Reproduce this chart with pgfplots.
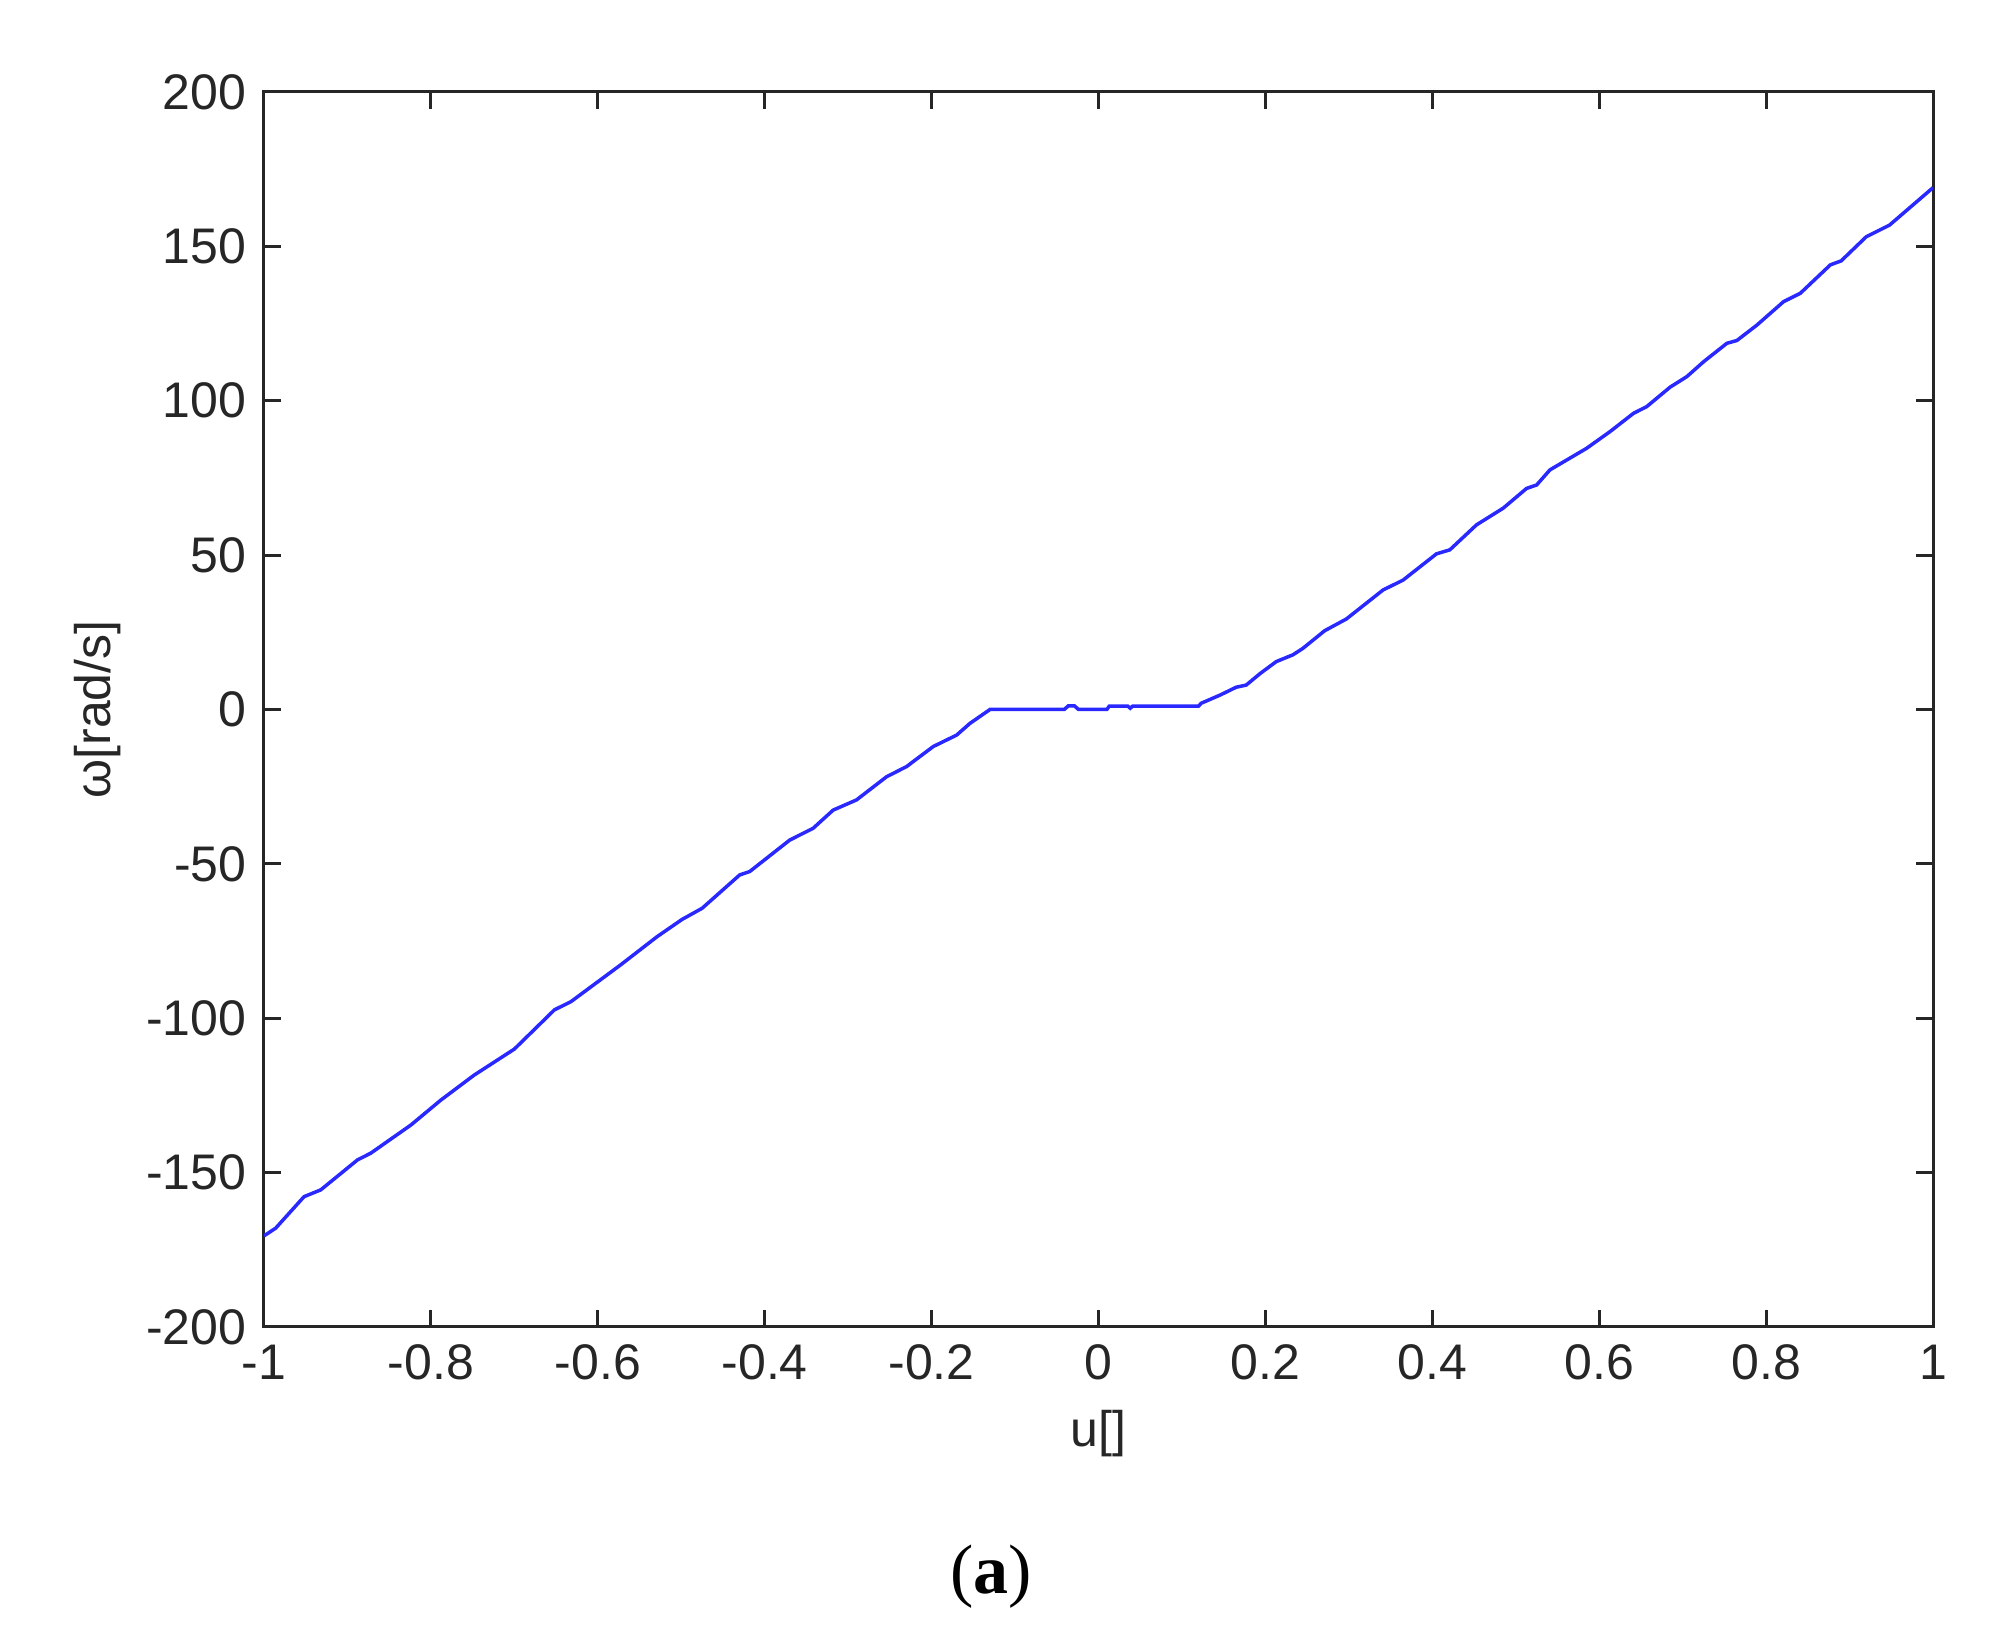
\documentclass[border=0pt]{standalone}
\usepackage{fontspec}
\setmainfont{Liberation Sans}
\newfontfamily\capfont{Liberation Serif}
\usepackage{pgfplots}
\pgfplotsset{compat=1.18}

\begin{document}
\begin{tikzpicture}
	\begin{axis}[
		name=ax,
		scale only axis,
		width=333.8pt, height=247pt,
		xmin=-1, xmax=1, ymin=-200, ymax=200,
		xtick={-1,-0.8,...,1.01},
		ytick={-200,-150,...,200},
		/pgf/number format/assume math mode=true,
		/pgf/number format/fixed,
		tick label style={font=\fontsize{10}{12}\selectfont, black!85},
		label style={font=\fontsize{10}{12}\selectfont, black!85},
		tick align=inside,
		major tick length=3.4pt,
		every tick/.style={black!85, line width=0.6pt},
		axis line style={black!85, line width=0.6pt},
		xlabel={u[]},
		ylabel={ω[rad/s]},
		xlabel style={at={(axis description cs:0.5,-0.086)}, anchor=center},
		ylabel style={at={(axis description cs:-0.1,0.5)}, anchor=center},
		]
		\addplot[color={rgb,255:red,40;green,40;blue,255}, line width=0.7pt] coordinates {
			(-1,-170.5) (-0.986,-168) (-0.952,-157.8) (-0.932,-155.6)
			(-0.888,-145.9) (-0.872,-143.7) (-0.824,-134.6) (-0.788,-126.5)
			(-0.748,-118.4) (-0.700,-110) (-0.652,-97.3) (-0.632,-94.6)
			(-0.573,-82.8) (-0.529,-73.6) (-0.499,-68) (-0.475,-64.4)
			(-0.430,-53.6) (-0.418,-52.5) (-0.370,-42.3) (-0.342,-38.5)
			(-0.318,-32.6) (-0.290,-29.3) (-0.254,-21.8) (-0.230,-18.5)
			(-0.198,-12.0) (-0.170,-8.3) (-0.154,-4.5) (-0.130,0)
			(-0.041,0) (-0.036,1.2) (-0.029,1.2) (-0.024,0)
			(0.010,0) (0.013,1.1) (0.035,1.1) (0.038,0.4) (0.041,1.1)
			(0.120,1.1) (0.123,2.0) (0.146,4.7) (0.165,7.2) (0.177,7.9)
			(0.194,11.7) (0.213,15.5) (0.233,17.7) (0.245,19.8)
			(0.271,25.5) (0.297,29.3) (0.341,38.7) (0.365,41.9)
			(0.405,50.4) (0.421,51.7) (0.453,59.8) (0.485,65.2)
			(0.513,71.6) (0.525,72.7) (0.541,77.6) (0.585,84.6)
			(0.613,90.0) (0.641,95.9) (0.657,98.1) (0.685,104.4)
			(0.705,107.8) (0.725,112.6) (0.753,118.6) (0.765,119.5)
			(0.789,124.5) (0.821,132.1) (0.841,134.8) (0.877,144.0)
			(0.890,145.3) (0.920,153.1) (0.948,156.9) (1.0,169)
		};
	\end{axis}
	% caption
	\node[font=\capfont\fontsize{14}{16}\selectfont] at ([xshift=145.4pt,yshift=-50pt]ax.south west) {(\textbf{a})};
	\pgfresetboundingbox
	\path[use as bounding box] ([xshift=-52.8pt,yshift=-62pt]ax.south west) rectangle ([xshift=12.8pt,yshift=18.4pt]ax.north east);
\end{tikzpicture}
\end{document}
